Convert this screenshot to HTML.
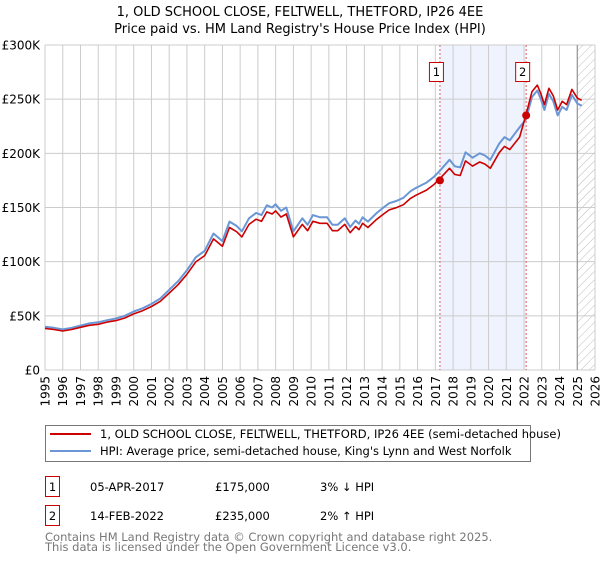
<!DOCTYPE html>
<html><head><meta charset="utf-8"><style>
body{margin:0;background:#fff;font-family:"Liberation Sans","DejaVu Sans",sans-serif;}
svg text{font-family:"DejaVu Sans","Liberation Sans",sans-serif;}
</style></head><body>
<svg id="chart" width="600" height="560" xmlns="http://www.w3.org/2000/svg">
<defs><pattern id="hatch" width="6" height="6" patternUnits="userSpaceOnUse" patternTransform="rotate(45)"><line x1="0" y1="0" x2="0" y2="6" stroke="#bbb" stroke-width="1"/></pattern></defs>
<text x="300" y="16" text-anchor="middle" font-size="13">1, OLD SCHOOL CLOSE, FELTWELL, THETFORD, IP26 4EE</text>
<text x="300" y="33" text-anchor="middle" font-size="13">Price paid vs. HM Land Registry's House Price Index (HPI)</text>
<g id="plot"></g>
<g>
<rect x="45.5" y="425.5" width="485" height="36" fill="#fff" stroke="#777"/>
<line x1="50" y1="434" x2="91" y2="434" stroke="#cc0000" stroke-width="2"/>
<text x="100" y="438" font-size="11.5">1, OLD SCHOOL CLOSE, FELTWELL, THETFORD, IP26 4EE (semi-detached house)</text>
<line x1="50" y1="451" x2="91" y2="451" stroke="#6a96d6" stroke-width="2"/>
<text x="100" y="455" font-size="11.5">HPI: Average price, semi-detached house, King's Lynn and West Norfolk</text>
</g>
<g font-size="11.5">
<rect x="45.5" y="476.5" width="14" height="20" fill="#fff" stroke="#cc0000"/>
<text x="52.5" y="491" text-anchor="middle">1</text>
<text x="90" y="491">05-APR-2017</text><text x="215" y="491">£175,000</text><text x="320" y="491">3% ↓ HPI</text>
<rect x="45.5" y="505.5" width="14" height="20" fill="#fff" stroke="#cc0000"/>
<text x="52.5" y="520" text-anchor="middle">2</text>
<text x="90" y="520">14-FEB-2022</text><text x="215" y="520">£235,000</text><text x="320" y="520">2% ↑ HPI</text>
</g>
<text x="45" y="541" font-size="11.5" fill="#777">Contains HM Land Registry data © Crown copyright and database right 2025.</text>
<text x="45" y="551" font-size="11.5" fill="#777">This data is licensed under the Open Government Licence v3.0.</text>
</svg>
<script>
const dates=[1995.0,1995.5,1996.0,1996.5,1997.0,1997.5,1998.0,1998.5,1999.0,1999.5,2000.0,2000.5,2001.0,2001.5,2002.0,2002.5,2003.0,2003.5,2004.0,2004.5,2005.0,2005.4,2005.8,2006.1,2006.5,2006.9,2007.2,2007.5,2007.8,2008.0,2008.3,2008.6,2009.0,2009.5,2009.8,2010.1,2010.5,2010.9,2011.2,2011.5,2011.9,2012.2,2012.5,2012.7,2012.9,2013.2,2013.7,2014.0,2014.4,2014.8,2015.2,2015.6,2015.9,2016.5,2016.9,2017.2,2017.8,2018.1,2018.4,2018.7,2019.1,2019.5,2019.8,2020.1,2020.6,2020.9,2021.2,2021.75,2022.1,2022.45,2022.75,2022.95,2023.15,2023.4,2023.65,2023.9,2024.15,2024.4,2024.7,2025.0,2025.25];
const hpiValues=[40,39,37.5,39,41,43,44,46,47.5,50,54,57,61,66,74,82,92,104,110,126,119,137,133,128,140,145,143,152,150,153,147,150,128,140,134,143,141,141,134,134,140,132,138,135,141,137,145,149,154,156,159,165,168,173,178,183,194,188,187,201,196,200,198,194,209,215,212,224,231,252,258,250,240,255,248,235,243,240,254,246,244];
const propertyValues=[38.4,37.4,36,37.4,39.4,41.3,42.2,44.2,45.6,48,51.8,54.7,58.6,63.4,71,78.7,88.3,99.8,105.6,121,114.2,131.5,127.7,122.9,134.4,139.2,137.3,145.9,144,146.9,141.1,144,122.9,134.4,128.6,137.3,135.4,135.4,128.6,128.6,134.4,126.7,132.5,129.6,135.4,131.5,139.2,143,147.8,149.8,152.6,158.4,161.3,166.1,170.9,175.7,186.2,180.5,179.5,193,188.2,192,190.1,186.2,200.6,206.4,203.5,215,235,257,263,255,245,260,253,240,248,245,259,251,249];
const saleDates=[2017.26,2022.12];
const salePrices=[175,235];
const saleLabels=["1","2"];
const yTicks=[0,50,100,150,200,250,300];
const yTickLabels=["£0","£50K","£100K","£150K","£200K","£250K","£300K"];
const xTicks=[1995,1996,1997,1998,1999,2000,2001,2002,2003,2004,2005,2006,2007,2008,2009,2010,2011,2012,2013,2014,2015,2016,2017,2018,2019,2020,2021,2022,2023,2024,2025,2026];

const NS="http://www.w3.org/2000/svg";
const X0=45,X1=595,Y0=370,Y1=45;
const xs=y=>X0+(y-1995)/(2026-1995)*(X1-X0);
const ys=v=>Y0-v/300*(Y0-Y1);
const plot=document.getElementById('plot');
function mk(tag,attrs,parent){const e=document.createElementNS(NS,tag);for(const k in attrs)e.setAttribute(k,attrs[k]);(parent||plot).appendChild(e);return e;}

let r=mk('rect',{x:xs(saleDates[0]),y:Y1,width:xs(saleDates[1])-xs(saleDates[0]),height:Y0-Y1,fill:'#eef3fd'});


let h=mk('rect',{x:xs(2025.0),y:Y1,width:X1-xs(2025.0),height:Y0-Y1,fill:'url(#hatch)'});



xTicks.forEach(t=>{
  let g=mk('line',{x1:xs(t),x2:xs(t),y1:Y1,y2:Y0,stroke:'#ccc','stroke-width':1});
  
  
  let tx=mk('text',{x:0,y:0,'font-size':12,'text-anchor':'end',transform:`translate(${xs(t)+4.5},376) rotate(-90)`});
  tx.textContent=t;
  
  
});
yTicks.forEach((t,i)=>{
  let g=mk('line',{x1:X0,x2:X1,y1:ys(t),y2:ys(t),stroke:'#ccc','stroke-width':1});
  
  
  let tx=mk('text',{x:40,y:ys(t)+4.5,'font-size':12,'text-anchor':'end'});
  tx.textContent=yTickLabels[i];
  
  
});
let v=mk('line',{x1:xs(2025.0),x2:xs(2025.0),y1:Y1,y2:Y0,stroke:'#888','stroke-width':1});



saleDates.forEach((d,i)=>{
  let l=mk('line',{x1:xs(d),x2:xs(d),y1:Y1,y2:Y0,stroke:'#e06060','stroke-width':1,'stroke-dasharray':'2,2'});
  
  
});

const pathOf=vals=>vals.map((val,i)=>(i?'L':'M')+xs(dates[i]).toFixed(1)+','+ys(val).toFixed(1)).join('');
let hp=mk('path',{d:pathOf(hpiValues),fill:'none',stroke:'#6a96d6','stroke-width':2,'stroke-linejoin':'round'});


let pp=mk('path',{d:pathOf(propertyValues),fill:'none',stroke:'#cc0000','stroke-width':1.6,'stroke-linejoin':'round'});



saleDates.forEach((d,i)=>{
  let c=mk('circle',{cx:xs(d),cy:ys(salePrices[i]),r:4,fill:'#cc0000'});
  
  
  let b=mk('rect',{x:xs(d)-10.5,y:62.5,width:14,height:19,fill:'#fff',stroke:'#cc0000'});
  
  
  let t=mk('text',{x:xs(d)-3.5,y:76,'font-size':11.5,'text-anchor':'middle'});
  t.textContent=saleLabels[i];
  
  
});
</script>
</body></html>
